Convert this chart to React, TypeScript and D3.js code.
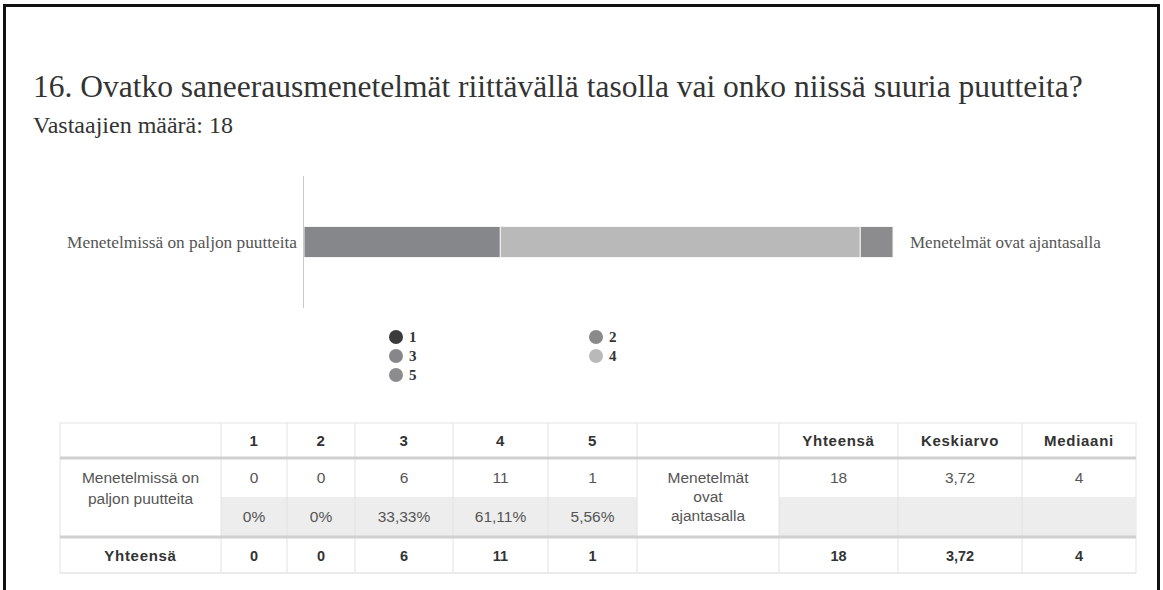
import * as d3 from 'd3'

// survey answers
const title = '16. Ovatko saneerausmenetelmät riittävällä tasolla vai onko niissä suuria puutteita?'
const subtitle = 'Vastaajien määrä: 18'
const leftLabel = 'Menetelmissä on paljon puutteita'
const rightLabel = 'Menetelmät ovat ajantasalla'
const categories = ['1', '2', '3', '4', '5']
const counts = [0, 0, 6, 11, 1]
const percents = ['0%', '0%', '33,33%', '61,11%', '5,56%']
const total = '18'
const mean = '3,72'
const median = '4'
const colors = ['#3b3b3b', '#8a8a8a', '#86878a', '#b9b9b9', '#8c8c8e']

const W = 1163
const H = 590
const serif = '"Liberation Serif", "Times New Roman", Tinos, serif'
const sans = '"Liberation Sans", Arial, sans-serif'

// table layout
const colEdges = [60, 221, 287, 355, 453, 548, 637, 779, 898, 1022, 1136]
const rowTop = 423
const headBottom = 459
const row1Bottom = 497
const row2Bottom = 536
const totTop = 538
const tableBottom = 573
const cellFont = 15.5

function Table() {
  const cx = (i: number) => (colEdges[i] + colEdges[i + 1]) / 2
  const headers = ['', ...categories, '', 'Yhteensä', 'Keskiarvo', 'Mediaani']
  const row1 = ['', ...counts.map(String), '', total, mean, median]
  const totals = ['Yhteensä', ...counts.map(String), '', total, mean, median]
  const grayCols = [1, 2, 3, 4, 5, 7, 8, 9]
  const r1y = (headBottom + row1Bottom) / 2
  const r2y = (row1Bottom + row2Bottom) / 2
  return (
    <g>
      <rect x={colEdges[0]} y={rowTop} width={colEdges[10] - colEdges[0]} height={tableBottom - rowTop}
        fill="#fff" stroke="#e4e4e4" />
      {grayCols.map(i => (
        <rect key={i} x={colEdges[i]} y={row1Bottom} width={colEdges[i + 1] - colEdges[i]}
          height={row2Bottom - row1Bottom} fill="#ededed" />
      ))}
      {colEdges.slice(1, -1).map((x, i) => (
        <line key={i} x1={x} x2={x} y1={rowTop} y2={tableBottom} stroke="#e2e2e2" />
      ))}
      <line x1={colEdges[0]} x2={colEdges[10]} y1={headBottom - 1} y2={headBottom - 1} stroke="#d0d0d0" strokeWidth={3} />
      <line x1={colEdges[0]} x2={colEdges[10]} y1={totTop - 1} y2={totTop - 1} stroke="#d0d0d0" strokeWidth={3} />
      <line x1={colEdges[0]} x2={colEdges[10]} y1={tableBottom} y2={tableBottom} stroke="#e4e4e4" />
      {headers.map((t, i) => (
        <text key={'h' + i} x={cx(i)} y={(rowTop + headBottom) / 2} dy="0.35em" textAnchor="middle"
          fontFamily={sans} fontSize={15} fontWeight="bold" letterSpacing={0.7} fill="#333">{t}</text>
      ))}
      {row1.map((t, i) => (
        <text key={'a' + i} x={cx(i)} y={r1y} dy="0.35em" textAnchor="middle"
          fontFamily={sans} fontSize={cellFont} fill="#555">{t}</text>
      ))}
      {percents.map((t, i) => (
        <text key={'p' + i} x={cx(i + 1)} y={r2y} dy="0.35em" textAnchor="middle"
          fontFamily={sans} fontSize={cellFont} fill="#555">{t}</text>
      ))}
      {['Menetelmissä on', 'paljon puutteita'].map((t, k) => (
        <text key={'l' + k} x={cx(0)} y={r1y + k * 21} dy="0.35em" textAnchor="middle"
          fontFamily={sans} fontSize={cellFont} fill="#555">{t}</text>
      ))}
      {['Menetelmät', 'ovat', 'ajantasalla'].map((t, k) => (
        <text key={'r' + k} x={cx(6)} y={r1y + k * 19} dy="0.35em" textAnchor="middle"
          fontFamily={sans} fontSize={cellFont} fill="#555">{t}</text>
      ))}
      {totals.map((t, i) => (
        <text key={'t' + i} x={cx(i)} y={(totTop + tableBottom) / 2} dy="0.35em" textAnchor="middle"
          fontFamily={sans} fontSize={i === 0 ? 15 : 14.5} fontWeight="bold" letterSpacing={i === 0 ? 0.7 : 0} fill="#333">{t}</text>
      ))}
    </g>
  )
}

export default function App() {
  const x = d3.scaleLinear().domain([0, d3.sum(counts)]).range([304, 893])
  // axis spans 176..308, bar is ~31px tall in the middle
  const y = d3.scaleBand().domain(['row']).range([176, 308]).paddingInner(0).paddingOuter(1.63)
  const row: Record<string, number> = {}
  categories.forEach((c, i) => { row[c] = counts[i] })
  const stacked = d3.stack<Record<string, number>>().keys(categories)([row])
  const color = d3.scaleOrdinal<string, string>().domain(categories).range(colors)

  const by = y('row') ?? 0
  const bh = y.bandwidth()

  // legend: two columns, filled left/right alternately
  const legendCols = [396, 596]
  const legendY = d3.scaleLinear().domain([0, 1]).range([337, 356])

  return (
    <svg width={W} height={H} style={{ position: 'absolute', left: 0, top: 0, background: '#fff' }}>
      <rect x={4.5} y={5.5} width={1154} height={620} fill="#fff" stroke="#111" strokeWidth={3} />
      <text x={33} y={97} fontFamily={serif} fontSize={31.5} fill="#333">{title}</text>
      <text x={33} y={133} fontFamily={serif} fontSize={24} fill="#333">{subtitle}</text>

      {stacked.map(s => (
        <rect key={s.key} x={x(s[0][0])} y={by} width={Math.max(0, x(s[0][1]) - x(s[0][0]))} height={bh}
          fill={color(s.key)} stroke={s[0][1] > s[0][0] ? '#f4f4f4' : 'none'} strokeWidth={1} />
      ))}
      <line x1={303.5} x2={303.5} y1={176} y2={308} stroke="#c8c8c8" />
      <text x={297} y={by + bh / 2} dy="0.35em" textAnchor="end" fontFamily={serif} fontSize={17.3} fill="#555">{leftLabel}</text>
      <text x={910} y={by + bh / 2} dy="0.35em" textAnchor="start" fontFamily={serif} fontSize={17} fill="#555">{rightLabel}</text>

      {categories.map((c, i) => {
        const cxl = legendCols[i % 2]
        const cyl = legendY(Math.floor(i / 2))
        return (
          <g key={c}>
            <circle cx={cxl} cy={cyl} r={7} fill={color(c)} />
            <text x={cxl + 13} y={cyl} dy="0.35em" fontFamily={serif} fontSize={15} fontWeight="bold" fill="#333">{c}</text>
          </g>
        )
      })}

      <Table />
    </svg>
  )
}
